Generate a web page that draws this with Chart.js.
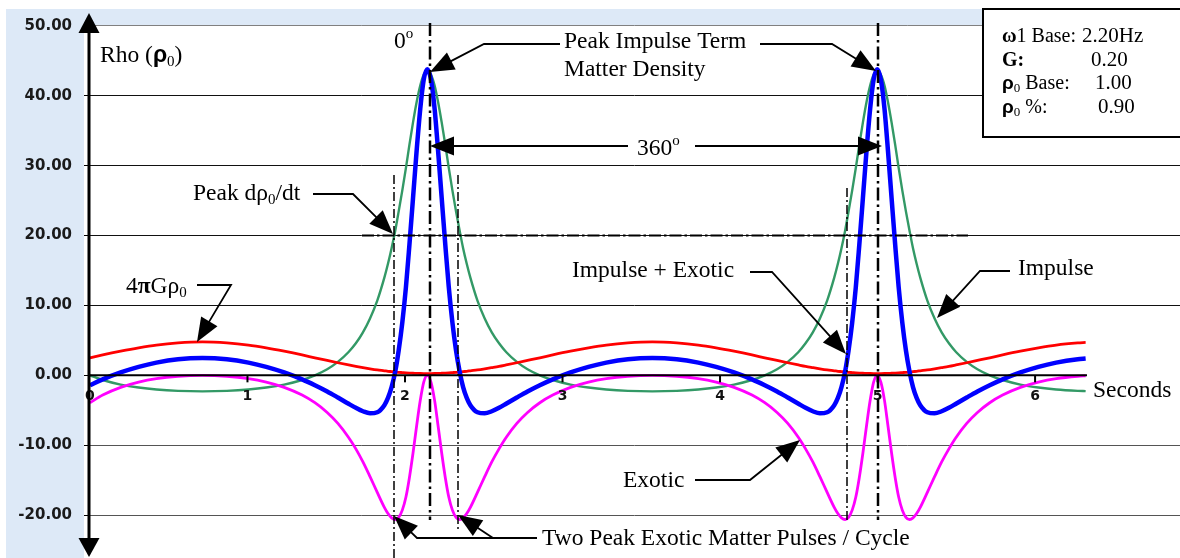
<!DOCTYPE html>
<html><head><meta charset="utf-8">
<script src="https://cdn.jsdelivr.net/npm/chart.js@4.4.1/dist/chart.umd.min.js"></script>
<style>html,body{margin:0;padding:0;background:#fff;}#wrap{width:1180px;height:558px;position:relative;}</style>
</head><body><div id="wrap"><canvas id="c"></canvas></div>
<script>
// ---- data ----
const timeSeconds = [0,0.081,0.195,0.309,0.422,0.559,0.714,
0.869,1.006,1.119,1.233,1.347,1.428,1.506,1.574,1.642,1.688,1.733,1.778,1.824,1.869,1.892,1.915,1.938,1.960,1.983,2.006,2.028,2.051,2.074,2.097,2.119,2.142,
2.165,2.188,2.210,2.233,2.256,2.278,2.301,2.324,2.347,2.369,2.392,2.415,2.460,2.506,2.551,2.597,2.642,2.710,2.778,2.856,2.938,3.051,3.165,3.278,3.415,3.570,
3.725,3.862,3.975,4.089,4.203,4.284,4.362,4.430,4.498,4.543,4.589,4.634,4.680,4.725,4.748,4.771,4.794,4.816,4.839,4.862,4.884,4.907,4.930,4.953,4.975,4.998,
5.021,5.044,5.066,5.089,5.112,5.134,5.157,5.180,5.203,5.225,5.248,5.271,5.316,5.362,5.407,5.453,5.498,5.566,5.634,5.712,5.794,5.907,6.021,6.134,6.271,6.321];

const rhoTerm = [2.51,2.92,3.45,3.93,4.33,4.64,4.78,
4.64,4.33,3.93,3.45,2.92,2.51,2.13,1.80,1.49,1.29,1.11,0.94,0.78,0.65,0.58,0.53,0.48,0.43,0.39,0.35,0.32,0.30,0.28,0.26,0.25,0.25,
0.25,0.26,0.28,0.30,0.32,0.35,0.39,0.43,0.48,0.53,0.58,0.65,0.78,0.94,1.11,1.29,1.49,1.80,2.13,2.51,2.92,3.45,3.93,4.33,4.64,4.78,
4.64,4.33,3.93,3.45,2.92,2.51,2.13,1.80,1.49,1.29,1.11,0.94,0.78,0.65,0.58,0.53,0.48,0.43,0.39,0.35,0.32,0.30,0.28,0.26,0.25,0.25,
0.25,0.26,0.28,0.30,0.32,0.35,0.39,0.43,0.48,0.53,0.58,0.65,0.78,0.94,1.11,1.29,1.49,1.80,2.13,2.51,2.92,3.45,3.93,4.33,4.64,4.71];

const impulse = [0,-0.67,-1.32,-1.75,-2.03,-2.22,-2.29,
-2.22,-2.03,-1.75,-1.32,-0.67,0,0.87,1.92,3.34,4.58,6.15,8.14,10.69,13.98,15.96,18.19,20.69,23.46,26.47,29.68,32.98,36.20,39.12,41.48,43.02,43.56,
43.02,41.48,39.12,36.20,32.98,29.68,26.47,23.46,20.69,18.19,15.96,13.98,10.69,8.14,6.15,4.58,3.34,1.92,0.87,0,-0.67,-1.32,-1.75,-2.03,-2.22,-2.29,
-2.22,-2.03,-1.75,-1.32,-0.67,0,0.87,1.92,3.34,4.58,6.15,8.14,10.69,13.98,15.96,18.19,20.69,23.46,26.47,29.68,32.98,36.20,39.12,41.48,43.02,43.56,
43.02,41.48,39.12,36.20,32.98,29.68,26.47,23.46,20.69,18.19,15.96,13.98,10.69,8.14,6.15,4.58,3.34,1.92,0.87,0,-0.67,-1.32,-1.75,-2.03,-2.22,-2.26];

const exotic = [-3.92,-2.82,-1.72,-0.97,-0.47,-0.13,0,
-0.13,-0.47,-0.97,-1.72,-2.82,-3.92,-5.31,-6.88,-8.89,-10.52,-12.39,-14.50,-16.75,-18.89,-19.78,-20.40,-20.63,-20.32,-19.29,-17.42,-14.65,-11.12,-7.22,-3.58,-0.96,0,
-0.96,-3.58,-7.22,-11.12,-14.65,-17.42,-19.29,-20.32,-20.63,-20.40,-19.78,-18.89,-16.75,-14.50,-12.39,-10.52,-8.89,-6.88,-5.31,-3.92,-2.82,-1.72,-0.97,-0.47,-0.13,0,
-0.13,-0.47,-0.97,-1.72,-2.82,-3.92,-5.31,-6.88,-8.89,-10.52,-12.39,-14.50,-16.75,-18.89,-19.78,-20.40,-20.63,-20.32,-19.29,-17.42,-14.65,-11.12,-7.22,-3.58,-0.96,0,
-0.96,-3.58,-7.22,-11.12,-14.65,-17.42,-19.29,-20.32,-20.63,-20.40,-19.78,-18.89,-16.75,-14.50,-12.39,-10.52,-8.89,-6.88,-5.31,-3.92,-2.82,-1.72,-0.97,-0.47,-0.13,-0.06];

const impulsePlusExotic = [-1.41,-0.57,0.42,1.22,1.82,2.30,2.48,
2.30,1.82,1.22,0.42,-0.57,-1.41,-2.30,-3.17,-4.07,-4.65,-5.14,-5.43,-5.28,-4.27,-3.23,-1.68,0.53,3.57,7.57,12.62,18.65,25.37,32.17,38.16,42.32,43.81,
42.32,38.16,32.17,25.37,18.65,12.62,7.57,3.57,0.53,-1.68,-3.23,-4.27,-5.28,-5.43,-5.14,-4.65,-4.07,-3.17,-2.30,-1.41,-0.57,0.42,1.22,1.82,2.30,2.48,
2.30,1.82,1.22,0.42,-0.57,-1.41,-2.30,-3.17,-4.07,-4.65,-5.14,-5.43,-5.28,-4.27,-3.23,-1.68,0.53,3.57,7.57,12.62,18.65,25.37,32.17,38.16,42.32,43.81,
42.32,38.16,32.17,25.37,18.65,12.62,7.57,3.57,0.53,-1.68,-3.23,-4.27,-5.28,-5.43,-5.14,-4.65,-4.07,-3.17,-2.30,-1.41,-0.57,0.42,1.22,1.82,2.30,2.40];

const yTickValues = [-20,-10,0,10,20,30,40,50];
const xTickValues = [0,1,2,3,4,5,6];
const xTickLabels = ['0','1','2','3','4','5','6'];

// ---- drawing helpers ----
const SERIF = '"Liberation Serif", "Times New Roman", serif';
const F = '23.5px ' + SERIF;
const FSUB = '15px ' + SERIF;

function rich(ctx, x, y, parts){
  let cx = x;
  for (const p of parts){
    ctx.font = p.f || F;
    ctx.fillText(p.t, cx, y + (p.dy || 0));
    cx += ctx.measureText(p.t).width;
  }
}
function headAt(ctx, fx, fy, tx, ty, len, hw){
  const a = Math.atan2(ty - fy, tx - fx);
  const bx = tx - len*Math.cos(a), by = ty - len*Math.sin(a);
  ctx.beginPath();
  ctx.moveTo(tx, ty);
  ctx.lineTo(bx + hw*Math.sin(a), by - hw*Math.cos(a));
  ctx.lineTo(bx - hw*Math.sin(a), by + hw*Math.cos(a));
  ctx.closePath();
  ctx.fill();
}
function arrow(ctx, pts, len=24, hw=9.5){
  ctx.save();
  ctx.strokeStyle = '#000'; ctx.fillStyle = '#000'; ctx.lineWidth = 1.8; ctx.setLineDash([]);
  const n = pts.length;
  const [fx, fy] = pts[n-2], [tx, ty] = pts[n-1];
  const a = Math.atan2(ty - fy, tx - fx);
  ctx.beginPath();
  ctx.moveTo(pts[0][0], pts[0][1]);
  for (let i = 1; i < n-1; i++) ctx.lineTo(pts[i][0], pts[i][1]);
  ctx.lineTo(tx - (len-2)*Math.cos(a), ty - (len-2)*Math.sin(a));
  ctx.stroke();
  headAt(ctx, fx, fy, tx, ty, len, hw);
  ctx.restore();
}
function dashLine(ctx, x1, y1, x2, y2, thick){
  ctx.save();
  ctx.strokeStyle = '#000';
  ctx.lineWidth = thick ? 2.5 : 1.5;
  ctx.setLineDash(thick ? [13,4,2.5,4] : [9,3,2,3]);
  ctx.beginPath(); ctx.moveTo(x1, y1); ctx.lineTo(x2, y2); ctx.stroke();
  ctx.restore();
}

const decor = {
  id: 'decor',
  beforeDraw(chart){
    const ctx = chart.ctx;
    ctx.save();
    ctx.fillStyle = '#fff'; ctx.fillRect(0, 0, 1180, 558);
    ctx.fillStyle = '#dde9f7'; ctx.fillRect(6, 9, 1174, 549);
    ctx.fillStyle = '#fff'; ctx.fillRect(84, 26, 1096, 532);
    ctx.restore();
  },
  afterDatasetsDraw(chart){
    const ctx = chart.ctx;
    const xs = chart.scales.x, ys = chart.scales.y;
    const y0 = ys.getPixelForValue(0);
    ctx.save();
    // dash-dot reference lines
    dashLine(ctx, 430, 23, 430, 520, true);
    dashLine(ctx, 878, 23, 878, 520, true);
    dashLine(ctx, 394, 175, 394, 558, false);
    dashLine(ctx, 458, 175, 458, 532, false);
    dashLine(ctx, 847, 188, 847, 520, false);
    const y20 = ys.getPixelForValue(20);
    ctx.save(); ctx.strokeStyle='#000'; ctx.lineWidth=2; ctx.setLineDash([12,3,2.5,3]);
    ctx.beginPath(); ctx.moveTo(362, y20); ctx.lineTo(968, y20); ctx.stroke(); ctx.restore();

    // x axis (zero line) with ticks and labels
    ctx.strokeStyle = '#000'; ctx.lineWidth = 2;
    ctx.beginPath(); ctx.moveTo(89, y0); ctx.lineTo(1087, y0); ctx.stroke();
    ctx.fillStyle = '#111';
    ctx.font = 'bold 14px "DejaVu Sans", Verdana, sans-serif';
    ctx.textAlign = 'center'; ctx.textBaseline = 'middle';
    xTickValues.forEach((v, i) => {
      const px = xs.getPixelForValue(v);
      if (i > 0){ ctx.beginPath(); ctx.moveTo(px, y0); ctx.lineTo(px, y0 + 7); ctx.stroke(); }
      ctx.fillText(xTickLabels[i], px, y0 + 21);
    });
    // y axis with arrows
    ctx.lineWidth = 3;
    ctx.beginPath(); ctx.moveTo(89, 30); ctx.lineTo(89, 542); ctx.stroke();
    ctx.fillStyle = '#000';
    ctx.beginPath(); ctx.moveTo(89, 13); ctx.lineTo(78.5, 33); ctx.lineTo(99.5, 33); ctx.closePath(); ctx.fill();
    ctx.beginPath(); ctx.moveTo(89, 557); ctx.lineTo(78.5, 538); ctx.lineTo(99.5, 538); ctx.closePath(); ctx.fill();

    // annotation arrows
    arrow(ctx, [[560,44],[484,44],[430,72]]);
    arrow(ctx, [[760,44],[832,44],[876,71]]);
    arrow(ctx, [[628,146],[430,146]]);
    arrow(ctx, [[695,146],[882,146]]);
    arrow(ctx, [[313,194],[353,194],[393,234]]);
    arrow(ctx, [[197,285],[231,285],[197,342]]);
    arrow(ctx, [[750,272],[772,272],[846,354]]);
    arrow(ctx, [[1010,271],[980,271],[937,318]]);
    arrow(ctx, [[695,480],[750,480],[800,440]]);
    arrow(ctx, [[537,538],[417,538],[394,516]]);
    arrow(ctx, [[493,538],[458,515]]);

    // annotation texts
    ctx.fillStyle = '#000'; ctx.textAlign = 'left'; ctx.textBaseline = 'alphabetic';
    rich(ctx, 100, 62, [{t:'Rho ('},{t:'\u03C1', f:'bold 23px "Liberation Sans", Arial, sans-serif'},{t:'0', f:FSUB, dy:4},{t:')'}]);
    rich(ctx, 394, 48, [{t:'0'},{t:'o', f:FSUB, dy:-10}]);
    rich(ctx, 564, 48, [{t:'Peak Impulse Term'}]);
    rich(ctx, 564, 76, [{t:'Matter Density'}]);
    rich(ctx, 637, 155, [{t:'360'},{t:'o', f:FSUB, dy:-10}]);
    rich(ctx, 193, 200, [{t:'Peak d\u03C1'},{t:'0', f:FSUB, dy:4},{t:'/dt'}]);
    rich(ctx, 126, 293, [{t:'4'},{t:'\u03C0', f:'bold 23.5px ' + SERIF},{t:'G\u03C1'},{t:'0', f:FSUB, dy:4}]);
    rich(ctx, 572, 277, [{t:'Impulse + Exotic'}]);
    rich(ctx, 1018, 275, [{t:'Impulse'}]);
    rich(ctx, 623, 487, [{t:'Exotic'}]);
    rich(ctx, 542, 545, [{t:'Two Peak Exotic Matter Pulses / Cycle'}]);
    rich(ctx, 1093, 397, [{t:'Seconds'}]);

    // parameter box
    ctx.fillStyle = '#fff'; ctx.fillRect(983, 9, 200, 128);
    ctx.strokeStyle = '#000'; ctx.lineWidth = 2; ctx.setLineDash([]);
    ctx.strokeRect(983, 9, 200, 128);
    ctx.fillStyle = '#000';
    const B = '20px ' + SERIF, BB = 'bold 20px ' + SERIF, RS = 'bold 19px "Liberation Sans", Arial, sans-serif', SS = '13px ' + SERIF;
    const BV = '21px ' + SERIF;
    rich(ctx, 1002, 42, [{t:'\u03C9', f:BB},{t:'1 Base:', f:B}]);
    rich(ctx, 1082, 42, [{t:'2.20Hz', f:BV}]);
    rich(ctx, 1002, 66, [{t:'G:', f:BB}]);
    rich(ctx, 1091, 66, [{t:'0.20', f:BV}]);
    rich(ctx, 1002, 89, [{t:'\u03C1', f:RS},{t:'0', f:SS, dy:3},{t:' Base:', f:B}]);
    rich(ctx, 1095, 89, [{t:'1.00', f:BV}]);
    rich(ctx, 1002, 113, [{t:'\u03C1', f:RS},{t:'0', f:SS, dy:3},{t:' %:', f:B}]);
    rich(ctx, 1098, 113, [{t:'0.90', f:BV}]);
    ctx.restore();
  }
};

function series(vals){ return timeSeconds.map((t, i) => ({x: t, y: vals[i]})); }

new Chart(document.getElementById('c'), {
  type: 'line',
  data: {
    datasets: [
      {label:'Impulse + Exotic', data: series(impulsePlusExotic), borderColor:'#0000ff', borderWidth:4.5, order:0},
      {label:'Exotic', data: series(exotic), borderColor:'#ff00ff', borderWidth:2.8, order:1},
      {label:'4\u03C0G\u03C10', data: series(rhoTerm), borderColor:'#ff0000', borderWidth:2.8, order:2},
      {label:'Impulse', data: series(impulse), borderColor:'#339966', borderWidth:2.4, order:3}
    ]
  },
  options: {
    responsive: true, maintainAspectRatio: false, animation: false,
    layout: {padding: 0},
    elements: {point: {radius: 0}, line: {cubicInterpolationMode: 'monotone', fill: false}},
    plugins: {legend: {display: false}, tooltip: {enabled: false}},
    scales: {
      x: {type: 'linear', min: -0.006, max: 6.92, display: false},
      y: {
        type: 'linear', min: -26.14, max: 53.71,
        afterBuildTicks: s => { s.ticks = yTickValues.map(v => ({value: v})); },
        afterFit: s => { s.width = 89; s.paddingTop = 0; s.paddingBottom = 0; },
        border: {display: false},
        grid: {
          color: c => { const v = c.tick ? c.tick.value : null; if (v === 0) return 'rgba(0,0,0,0)'; if (v === 50) return '#808080'; if (v < 0) return '#555555'; return '#111111'; },
          lineWidth: 1, drawTicks: true, tickLength: 5, tickColor: '#000'
        },
        ticks: {
          callback: v => Number(v).toFixed(2),
          font: {family: '"DejaVu Sans", Verdana, sans-serif', size: 15, weight: 'bold'},
          color: '#1a1a1a', padding: 12
        }
      }
    }
  },
  plugins: [decor]
});
</script>
</body></html>
